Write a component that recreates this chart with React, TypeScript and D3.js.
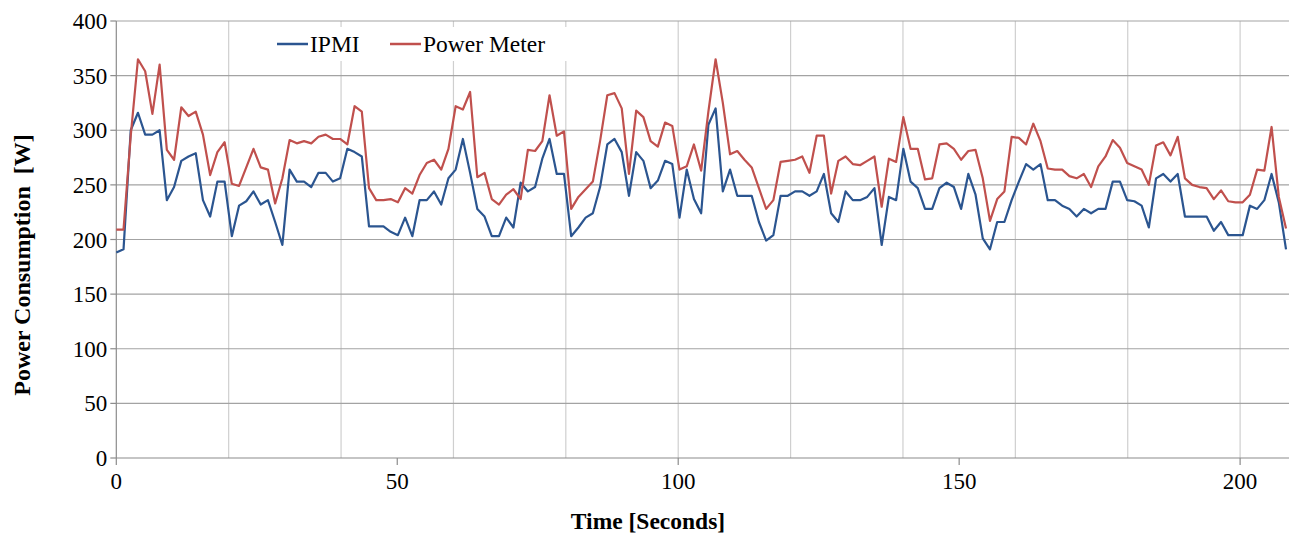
import * as d3 from "d3"

// IPMI readings (W), one per sample
const ipmi = [
  188, 191, 300, 316, 296, 296, 300, 236, 248, 272, 276, 279, 236, 221, 253, 253, 203, 231, 235, 244,
  232, 236, 216, 195, 264, 253, 253, 248, 261, 261, 253, 256, 283, 280, 276, 212, 212, 212, 207, 204,
  220, 203, 236, 236, 244, 232, 256, 264, 292, 261, 228, 221, 203, 203, 220, 211, 252, 244, 248, 274,
  292, 260, 260, 203, 211, 220, 224, 248, 287, 292, 280, 240, 280, 272, 247, 254, 272, 269, 220, 264,
  237, 224, 305, 320, 244, 264, 240, 240, 240, 216, 199, 204, 240, 240, 244, 244, 240, 244, 260, 224,
  216, 244, 236, 236, 239, 247, 195, 239, 236, 283, 253, 247, 228, 228, 247, 252, 248, 228, 260, 241,
  201, 191, 216, 216, 236, 253, 269, 264, 269, 236, 236, 231, 228, 221, 228, 224, 228, 228, 253, 253,
  236, 235, 231, 211, 256, 260, 253, 260, 221, 221, 221, 221, 208, 216, 204, 204, 204, 231, 228, 236,
  260, 234, 191,
]

// Power meter readings (W), same samples
const powerMeter = [
  209, 209, 295, 365, 354, 315, 360, 282, 273, 321, 313, 317, 296, 259, 280, 289, 251, 249, 266, 283,
  266, 264, 233, 256, 291, 288, 290, 288, 294, 296, 292, 292, 287, 322, 317, 247, 236, 236, 237, 234,
  247, 242, 259, 270, 273, 264, 283, 322, 319, 335, 257, 261, 237, 232, 241, 246, 237, 282, 281, 290,
  332, 295, 299, 228, 239, 246, 253, 290, 332, 334, 320, 260, 318, 312, 290, 285, 307, 304, 264, 267,
  287, 263, 317, 365, 325, 278, 281, 273, 266, 247, 228, 236, 271, 272, 273, 276, 261, 295, 295, 242,
  272, 276, 269, 268, 272, 276, 230, 274, 271, 312, 283, 283, 255, 256, 287, 288, 283, 273, 281, 282,
  256, 217, 237, 244, 294, 293, 287, 306, 290, 265, 264, 264, 258, 256, 260, 248, 267, 276, 291, 284,
  270, 267, 264, 250, 286, 289, 277, 294, 256, 250, 248, 247, 237, 245, 235, 234, 234, 241, 264, 263,
  303, 239, 210,
]

const sampleSeconds = 1.285
const yTicks = [0, 50, 100, 150, 200, 250, 300, 350, 400]
const xTicks = [0, 50, 100, 150, 200]
const xGrid = [20, 40, 60, 80, 100, 120, 140, 160, 180, 200]

const font = "'Liberation Serif', 'Times New Roman', serif"

export default function App() {
  const width = 1289
  const height = 533

  const x = d3.scaleLinear().domain([0, 208.7]).range([116.3, 1289])
  const y = d3.scaleLinear().domain([0, 400]).range([458, 21])

  const line = d3
    .line<number>()
    .x((d, i) => x(i * sampleSeconds))
    .y((d) => y(d))

  const series = [
    { name: "IPMI", values: ipmi, color: "#2b5590" },
    { name: "Power Meter", values: powerMeter, color: "#c0504d" },
  ]

  return (
    <div style={{ position: "absolute", left: 0, top: 0 }}>
      <svg width={width} height={height} style={{ display: "block", background: "#fff" }}>
        {/* vertical grid */}
        {xGrid.map((t) => (
          <line key={"vg" + t} x1={x(t)} x2={x(t)} y1={y(0)} y2={y(400)} stroke="#cfcfcf" strokeWidth={1.2} />
        ))}
        {/* horizontal grid */}
        {yTicks.slice(1).map((v) => (
          <line key={"hg" + v} x1={x(0)} x2={width} y1={y(v)} y2={y(v)} stroke="#a3a3a3" strokeWidth={1.2} />
        ))}

        {/* legend box hides the grid behind it */}
        <rect x={262} y={27} width={312} height={34} fill="#fff" />

        {/* axes */}
        <line x1={x(0)} x2={x(0)} y1={y(0)} y2={y(400)} stroke="#8c8c8c" strokeWidth={1.2} />
        <line x1={x(0)} x2={width} y1={y(0)} y2={y(0)} stroke="#8c8c8c" strokeWidth={1.2} />
        {yTicks.map((v) => (
          <g key={"yt" + v}>
            <line x1={x(0) - 6} x2={x(0)} y1={y(v)} y2={y(v)} stroke="#8c8c8c" strokeWidth={1.2} />
            <text x={x(0) - 9} y={y(v)} dy="0.35em" textAnchor="end" fontFamily={font} fontSize={23} fill="#000">
              {v}
            </text>
          </g>
        ))}
        {xTicks.map((t) => (
          <g key={"xt" + t}>
            <line x1={x(t)} x2={x(t)} y1={y(0)} y2={y(0) + 7} stroke="#8c8c8c" strokeWidth={1.2} />
            <text x={x(t)} y={489} textAnchor="middle" fontFamily={font} fontSize={23} fill="#000">
              {t}
            </text>
          </g>
        ))}

        {/* data */}
        {series.map((s) => (
          <path key={s.name} d={line(s.values) ?? ""} fill="none" stroke={s.color} strokeWidth={2.2} strokeLinejoin="round" />
        ))}

        {/* legend */}
        <line x1={277} x2={308} y1={44} y2={44} stroke={series[0].color} strokeWidth={2.5} />
        <text x={310} y={52} fontFamily={font} fontSize={23.5} fill="#000">IPMI</text>
        <line x1={390} x2={421} y1={44} y2={44} stroke={series[1].color} strokeWidth={2.5} />
        <text x={423} y={52} fontFamily={font} fontSize={23.5} fill="#000">Power Meter</text>

        {/* axis titles */}
        <text x={648} y={529} textAnchor="middle" fontFamily={font} fontSize={23.5} fontWeight="bold" fill="#000">
          Time [Seconds]
        </text>
        <text
          transform="translate(30,265) rotate(-90)"
          textAnchor="middle"
          fontFamily={font}
          fontSize={24}
          fontWeight="bold"
          fill="#000"
          style={{ whiteSpace: "pre" }}
        >
          {"Power Consumption  [W]"}
        </text>
      </svg>
    </div>
  )
}
